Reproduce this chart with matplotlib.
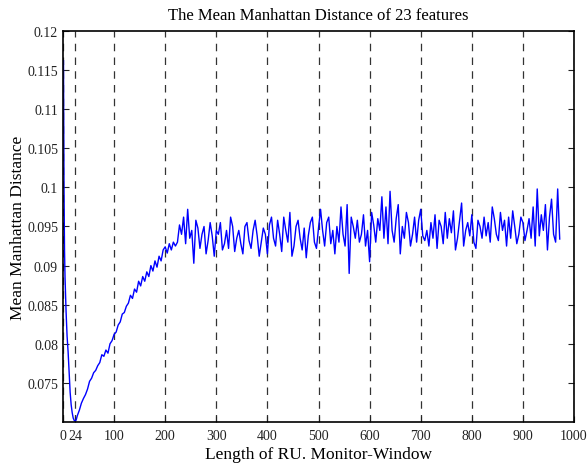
import matplotlib
matplotlib.use("Agg")
import matplotlib.pyplot as plt
import numpy as np

# window lengths and mean Manhattan distance
early_lengths = [1, 2, 3, 4, 5, 6, 7, 8, 10, 12, 14, 16, 18, 20, 22, 24, 26, 28]
early_distance = [0.1162, 0.1000, 0.0920, 0.0885, 0.0862, 0.0842, 0.0825, 0.0810,
                  0.0790, 0.0765, 0.0738, 0.0722, 0.0712, 0.0705, 0.0702, 0.0701,
                  0.0703, 0.0708]

rise_lengths = np.arange(32, 221, 4)
rise_distance = [0.0715, 0.0724, 0.0730, 0.0735, 0.0742, 0.0752, 0.0756, 0.0763,
                 0.0766, 0.0772, 0.0776, 0.0786, 0.0784, 0.0792, 0.0788, 0.0800,
                 0.0804, 0.0812, 0.0815, 0.0824, 0.0828, 0.0838, 0.0840, 0.0848,
                 0.0852, 0.0862, 0.0858, 0.0870, 0.0866, 0.0880, 0.0874, 0.0886,
                 0.0880, 0.0892, 0.0886, 0.0900, 0.0893, 0.0906, 0.0898, 0.0912,
                 0.0906, 0.0920, 0.0924, 0.0916, 0.0928, 0.0920, 0.0930, 0.0925]

plateau_lengths = np.arange(224, 973, 4)
plateau_distance = [
    # 224 - 320
    0.0930, 0.0952, 0.0940, 0.0962, 0.0928, 0.0972, 0.0935, 0.0945, 0.0903, 0.0958,
    0.0948, 0.0922, 0.0940, 0.0950, 0.0915, 0.0932, 0.0955, 0.0938, 0.0912, 0.0945,
    0.0940, 0.0955, 0.0920, 0.0928, 0.0945,
    # 324 - 420
    0.0922, 0.0962, 0.0950, 0.0918, 0.0935, 0.0945, 0.0928, 0.0915, 0.0950, 0.0955,
    0.0932, 0.0922, 0.0945, 0.0958, 0.0938, 0.0912, 0.0930, 0.0948, 0.0940, 0.0915,
    0.0952, 0.0962, 0.0935, 0.0925, 0.0958,
    # 424 - 520
    0.0940, 0.0918, 0.0962, 0.0945, 0.0930, 0.0968, 0.0912, 0.0925, 0.0950, 0.0958,
    0.0935, 0.0920, 0.0948, 0.0910, 0.0938, 0.0955, 0.0962, 0.0930, 0.0922, 0.0948,
    0.0972, 0.0945, 0.0925, 0.0955, 0.0962,
    # 524 - 620
    0.0928, 0.0945, 0.0915, 0.0950, 0.0930, 0.0975, 0.0940, 0.0925, 0.0978, 0.0890,
    0.0962, 0.0950, 0.0935, 0.0958, 0.0930, 0.0940, 0.0965, 0.0925, 0.0945, 0.0905,
    0.0968, 0.0952, 0.0930, 0.0960, 0.0945,
    # 624 - 720
    0.0988, 0.0935, 0.0975, 0.0928, 0.0995, 0.0945, 0.0930, 0.0960, 0.0978, 0.0915,
    0.0950, 0.0935, 0.0968, 0.0955, 0.0925, 0.0940, 0.0962, 0.0930, 0.0958, 0.0972,
    0.0938, 0.0932, 0.0945, 0.0925, 0.0955,
    # 724 - 820
    0.0935, 0.0965, 0.0922, 0.0958, 0.0950, 0.0928, 0.0968, 0.0935, 0.0960, 0.0942,
    0.0970, 0.0920, 0.0935, 0.0958, 0.0980, 0.0925, 0.0945, 0.0955, 0.0938, 0.0965,
    0.0930, 0.0922, 0.0958, 0.0950, 0.0935,
    # 824 - 920
    0.0962, 0.0938, 0.0955, 0.0930, 0.0975, 0.0960, 0.0940, 0.0932, 0.0968, 0.0945,
    0.0958, 0.0925, 0.0962, 0.0935, 0.0970, 0.0950, 0.0928, 0.0940, 0.0962, 0.0955,
    0.0932, 0.0945, 0.0960, 0.0935, 0.0975,
    # 924 - 972
    0.0925, 0.0998, 0.0938, 0.0965, 0.0945, 0.0978, 0.0920, 0.0962, 0.0985, 0.0940,
    0.0930, 0.0998, 0.0934,
]

x_ticks = [0, 24, 100, 200, 300, 400, 500, 600, 700, 800, 900, 1000]
x_tick_labels = ["0", "24", "100", "200", "300", "400", "500", "600", "700",
                 "800", "900", "1000"]
y_ticks = [0.075, 0.08, 0.085, 0.09, 0.095, 0.1, 0.105, 0.11, 0.115, 0.12]
y_tick_labels = ["0.075", "0.08", "0.085", "0.09", "0.095", "0.1", "0.105",
                 "0.11", "0.115", "0.12"]


def main():
    plt.rcParams["font.family"] = ["Liberation Serif", "DejaVu Serif"]

    lengths = np.concatenate([early_lengths, rise_lengths, plateau_lengths])
    distance = np.concatenate([early_distance, rise_distance, plateau_distance])

    figure = plt.figure(figsize=(5.87, 4.64), dpi=100)
    plot = figure.add_axes([0.1073, 0.0884, 0.8706, 0.8426])

    plot.plot(lengths, distance, color="#0000ff", lw=1.0)

    plot.set_xlim(0, 1000)
    plot.set_ylim(0.0700, 0.12)
    plot.set_xticks(x_ticks)
    plot.set_xticklabels(x_tick_labels)
    plot.set_yticks(y_ticks)
    plot.set_yticklabels(y_tick_labels)

    plot.tick_params(direction="in", length=4, width=0.8, labelsize=10,
                     colors="#222222", right=True, top=False)
    plot.tick_params(axis="x", pad=5)
    plot.xaxis.grid(True, color="#333333", linestyle=(0, (6, 5)), lw=0.9)
    for spine in plot.spines.values():
        spine.set_linewidth(1.2)

    plot.set_title("The Mean Manhattan Distance of 23 features",
                   fontsize=12, pad=9)
    plot.set_xlabel("Length of RU. Monitor-Window", fontsize=12.5, labelpad=3)
    plot.set_ylabel("Mean Manhattan Distance", fontsize=12.5, labelpad=1)

    figure.savefig("out.png", dpi=100)


if __name__ == "__main__":
    main()
